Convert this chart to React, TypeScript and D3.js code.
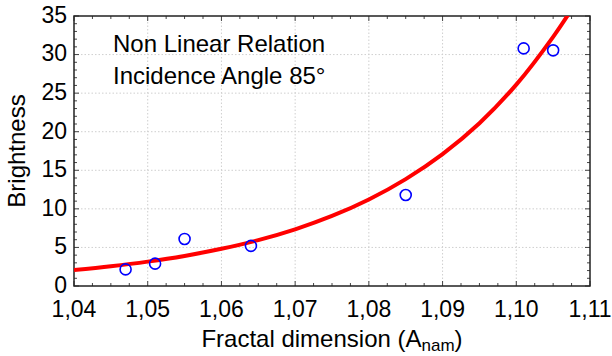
import React from "react";
import * as d3 from "d3";

const pointX = [1.047, 1.051, 1.055, 1.064, 1.085, 1.101, 1.105];
const pointY = [2.15, 2.9, 6.1, 5.2, 11.8, 30.8, 30.55];

// fitted curve
const curveX = [1.04, 1.045, 1.05, 1.055, 1.06, 1.065, 1.07, 1.075, 1.08, 1.085, 1.09, 1.095, 1.1, 1.105, 1.108];
const curveY = [2.07, 2.56, 3.16, 3.9, 4.82, 5.95, 7.35, 9.08, 11.22, 13.86, 17.1, 21.1, 26.1, 32.3, 36.6];

const xTicks = [1.04, 1.05, 1.06, 1.07, 1.08, 1.09, 1.1, 1.11];
const yTicks = [0, 5, 10, 15, 20, 25, 30, 35];

const W = 612;
const H = 356;
const m = { left: 74, right: 22, top: 16, bottom: 70 };
const font = "Arial, 'Liberation Sans', sans-serif";

export default function App() {
  const x = d3.scaleLinear().domain([1.04, 1.11]).range([m.left, W - m.right]);
  const y = d3.scaleLinear().domain([0, 35]).range([H - m.bottom, m.top]);
  const x0 = x.range()[0], x1 = x.range()[1];
  const y0 = y.range()[0], y1 = y.range()[1];

  const line = d3
    .line<number>()
    .x((_, i) => x(curveX[i]))
    .y((d) => y(d))
    .curve(d3.curveCatmullRom);

  const xMinor = d3.range(0, 29).map((i) => 1.04 + i * 0.0025);
  const yMinor = d3.range(0, 36);
  const fmt = (v: number) => v.toFixed(2).replace(".", ",");

  return (
    <svg width={W} height={H} style={{ position: "absolute", left: 0, top: 0 }} fontFamily={font}>
      <rect width={W} height={H} fill="#fff" />
      <defs>
        <clipPath id="plot">
          <rect x={x0} y={y1} width={x1 - x0} height={y0 - y1} />
        </clipPath>
      </defs>
      {/* grid */}
      <g stroke="#cfcfcf" strokeWidth={1} strokeDasharray="1.5,2">
        {xTicks.slice(1, -1).map((t) => (
          <line key={"gx" + t} x1={x(t)} x2={x(t)} y1={y0} y2={y1} />
        ))}
        {yTicks.slice(1, -1).map((t) => (
          <line key={"gy" + t} x1={x0} x2={x1} y1={y(t)} y2={y(t)} />
        ))}
      </g>
      {/* minor ticks */}
      <g stroke="#444" strokeWidth={1}>
        {xMinor.map((t, i) => (
          <g key={"mx" + i}>
            <line x1={x(t)} x2={x(t)} y1={y0} y2={y0 - (i % 4 === 0 ? 5 : 3)} />
            <line x1={x(t)} x2={x(t)} y1={y1} y2={y1 + (i % 4 === 0 ? 5 : 3)} />
          </g>
        ))}
        {yMinor.map((t) => (
          <g key={"my" + t}>
            <line x1={x0} x2={x0 + (t % 5 === 0 ? 5 : 3)} y1={y(t)} y2={y(t)} />
            <line x1={x1} x2={x1 - (t % 5 === 0 ? 5 : 3)} y1={y(t)} y2={y(t)} />
          </g>
        ))}
      </g>
      <rect x={x0} y={y1} width={x1 - x0} height={y0 - y1} fill="none" stroke="#222" strokeWidth={1.5} />
      {/* curve */}
      <path d={line(curveY) ?? ""} fill="none" stroke="#ff0000" strokeWidth={4} clipPath="url(#plot)" />
      {pointX.map((px, i) => (
        <circle key={"p" + i} cx={x(px)} cy={y(pointY[i])} r={5.5} fill="none" stroke="#0000ff" strokeWidth={1.6} />
      ))}
      {/* tick labels */}
      <g fontSize={23} fill="#000">
        {xTicks.map((t) => (
          <text key={"xl" + t} x={x(t)} y={317} textAnchor="middle">
            {fmt(t)}
          </text>
        ))}
        {yTicks.map((t) => (
          <text key={"yl" + t} x={67} y={y(t)} dy="0.3em" textAnchor="end">
            {t}
          </text>
        ))}
      </g>
      <text x={(x0 + x1) / 2} y={347} textAnchor="middle" fontSize={24}>
        Fractal dimension (A<tspan fontSize={17} dy={4}>nam</tspan>
        <tspan dy={-4}>)</tspan>
      </text>
      <text transform={`translate(25,${(y0 + y1) / 2}) rotate(-90)`} textAnchor="middle" fontSize={24}>
        Brightness
      </text>
      <g fontSize={24}>
        <text x={113} y={52}>Non Linear Relation</text>
        <text x={113} y={83.5}>Incidence Angle 85°</text>
      </g>
    </svg>
  );
}
